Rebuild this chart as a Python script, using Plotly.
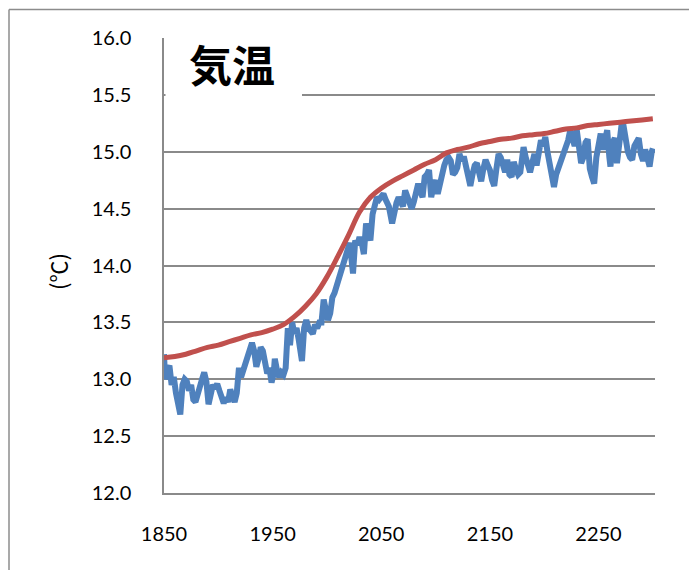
import plotly.graph_objects as go

# ---- data ----
blue_years = [1850, 1851, 1853, 1855, 1857, 1859, 1861, 1863, 1865, 1867, 1869, 1871, 1873, 1875, 1877, 1879,
              1881, 1883, 1885, 1887, 1889, 1891, 1893, 1895, 1897, 1899, 1901, 1903, 1905, 1907, 1909, 1911,
              1913, 1915, 1917, 1919, 1921, 1923, 1925, 1927, 1929,
              1931, 1933, 1935, 1937, 1939, 1941, 1943, 1945, 1947, 1949, 1951, 1952, 1954, 1956, 1958, 1960,
              1962, 1964, 1966, 1968, 1970, 1972, 1974, 1977, 1979, 1981, 1983, 1985, 1987, 1989, 1991, 1993,
              1995, 1997, 1999, 2001, 2003, 2005, 2007, 2009,
              2011, 2013, 2015, 2017, 2019, 2021, 2024, 2026, 2028, 2030, 2032, 2034, 2036, 2038, 2040, 2042,
              2044, 2046, 2048, 2050, 2052, 2054, 2057, 2060, 2062, 2064, 2066, 2068, 2070, 2072, 2074, 2076,
              2078, 2080, 2082, 2084,
              2086, 2088, 2090, 2092, 2094, 2096, 2098, 2100, 2102, 2104, 2106, 2108, 2110, 2112, 2114, 2116,
              2118, 2120, 2122, 2124, 2126, 2128, 2130, 2132, 2134, 2136, 2138, 2140, 2142, 2144, 2146, 2148,
              2150, 2152, 2154, 2156, 2158, 2160,
              2162, 2164, 2166, 2168, 2170, 2172, 2174, 2176, 2178, 2180, 2181, 2183, 2185, 2187, 2189, 2191,
              2193, 2195, 2197, 2199, 2201, 2203, 2205, 2207, 2209, 2211, 2213, 2215, 2218, 2220, 2222, 2224,
              2226, 2228, 2230, 2232, 2234, 2236, 2238, 2240, 2242, 2244, 2246, 2248, 2250, 2252, 2254, 2256,
              2258, 2260, 2261, 2263, 2265, 2267, 2269, 2271, 2273, 2275, 2277, 2279, 2281, 2283, 2285, 2287,
              2289, 2291, 2293, 2295, 2297, 2299, 2300]
blue_temp = [13.22, 13.00, 13.08, 13.12, 12.95, 13.02, 12.88, 12.80, 12.69, 12.95, 13.00, 12.98, 12.90, 12.95, 12.82, 12.80,
             12.88, 12.92, 13.00, 13.06, 12.98, 12.78, 12.85, 12.95, 12.92, 12.96, 12.90, 12.85, 12.79, 12.84, 12.80, 12.91,
             12.85, 12.80, 12.88, 13.10, 13.02, 13.08, 13.15, 13.20, 13.26,
             13.32, 13.25, 13.11, 13.18, 13.28, 13.25, 13.12, 13.05, 13.10, 12.97, 13.05, 13.18, 13.08, 13.02, 13.06, 13.04,
             13.10, 13.45, 13.30, 13.50, 13.40, 13.45, 13.35, 13.16, 13.45, 13.52, 13.45, 13.42, 13.40, 13.48, 13.45, 13.50,
             13.50, 13.70, 13.62, 13.52, 13.58, 13.72, 13.76, 13.82,
             13.90, 13.95, 13.99, 14.08, 14.15, 14.20, 13.93, 14.22, 14.18, 14.25, 14.20, 14.10, 14.37, 14.30, 14.22, 14.45,
             14.55, 14.60, 14.58, 14.60, 14.63, 14.58, 14.52, 14.37, 14.50, 14.55, 14.60, 14.55, 14.52, 14.66, 14.60, 14.55,
             14.50, 14.56, 14.62, 14.72,
             14.65, 14.60, 14.78, 14.80, 14.84, 14.60, 14.70, 14.75, 14.63, 14.72, 14.84, 14.88, 14.93, 14.95, 14.92, 14.80,
             14.82, 14.86, 14.98, 14.92, 14.96, 14.88, 14.80, 14.70, 14.80, 14.88, 14.90, 14.82, 14.74, 14.85, 14.93, 14.88,
             14.84, 14.75, 14.70, 14.85, 14.98, 14.95,
             14.87, 14.82, 14.93, 14.80, 14.78, 14.91, 14.85, 14.80, 14.82, 14.95, 15.04, 14.95, 14.88, 14.82, 14.90, 14.98,
             14.88, 15.00, 15.10, 15.05, 15.13, 15.00, 14.90, 14.75, 14.69, 14.80, 14.85, 14.90, 14.98, 15.05, 15.10, 15.19,
             15.10, 15.05, 15.19, 15.00, 14.90, 14.95, 15.08, 15.11, 14.85, 14.78, 14.72, 14.95, 15.10, 15.16, 15.02, 15.10,
             15.19, 14.95, 14.87, 15.08, 15.12, 14.90, 15.10, 15.22, 15.23, 15.10, 15.00, 14.95, 14.93, 15.05, 15.10, 15.12,
             14.98, 14.92, 15.02, 14.95, 14.87, 15.00, 15.03]

red_years = [1850, 1860, 1870, 1880, 1890, 1900, 1910, 1920, 1930, 1940, 1950, 1960, 1970, 1980, 1990,
             2000, 2010, 2020, 2030, 2040, 2050, 2060, 2070, 2080, 2090, 2100, 2110, 2120, 2130, 2140,
             2150, 2160, 2170, 2180, 2190, 2200, 2210, 2220, 2230, 2240, 2250, 2260, 2270, 2280, 2290, 2300]
red_temp = [13.19, 13.20, 13.22, 13.25, 13.28, 13.30, 13.33, 13.36, 13.39, 13.41, 13.44, 13.48, 13.55, 13.64, 13.75,
            13.90, 14.08, 14.27, 14.47, 14.60, 14.68, 14.74, 14.79, 14.84, 14.89, 14.93, 14.99, 15.02, 15.04, 15.07,
            15.09, 15.11, 15.12, 15.14, 15.15, 15.16, 15.18, 15.20, 15.21, 15.23, 15.24, 15.25, 15.26, 15.27, 15.28, 15.29]

x_ticks = [1850, 1950, 2050, 2150, 2250]
y_ticks = [12.0, 12.5, 13.0, 13.5, 14.0, 14.5, 15.0, 15.5, 16.0]
title_text = "気温"
y_label = "(℃)"

# ---- layout geometry ----
# the page body has an 8px margin, so figure pixel = screen pixel - 8
W, H = 697, 570
OFF = 8
L, R, T, B = 156, 50, 29.5, 84.5
PW, PH = W - L - R, H - T - B


def px(xs):
    return (xs - OFF - L) / PW


def py(ys):
    return (H - B - (ys - OFF)) / PH


GRID = "#8a8a8a"
FONT = "Lato, Liberation Sans, sans-serif"

fig = go.Figure()
fig.add_trace(go.Scatter(x=blue_years, y=blue_temp, mode="lines",
                         line=dict(color="#4F81BD", width=6), hoverinfo="skip"))
fig.add_trace(go.Scatter(x=red_years, y=red_temp, mode="lines", line_shape="spline",
                         line=dict(color="#C0504D", width=5), hoverinfo="skip"))

fig.update_layout(
    width=W, height=H,
    margin=dict(l=L, r=R, t=T, b=B, pad=0),
    paper_bgcolor="white", plot_bgcolor="white",
    showlegend=False,
    font=dict(family=FONT, size=20, color="black"),
    xaxis=dict(range=[1850, 2302], tickvals=x_ticks, ticktext=[str(v) for v in x_ticks],
               showgrid=False, zeroline=False, showline=True, linecolor=GRID, linewidth=1.5,
               ticks="", ticklabelstandoff=22, tickfont=dict(size=20, family=FONT)),
    yaxis=dict(range=[12, 16], tickvals=y_ticks, ticktext=[f"{v:.1f}" for v in y_ticks],
               showgrid=True, gridcolor=GRID, gridwidth=1.5, zeroline=False,
               showline=True, linecolor=GRID, linewidth=1.5,
               ticks="", ticklabelstandoff=27, tickfont=dict(size=20, family=FONT)),
    shapes=[
        # white box behind title
        dict(type="rect", xref="paper", yref="paper", x0=px(165.5), x1=px(302), y0=py(106), y1=py(30),
             fillcolor="white", line=dict(width=0), layer="above"),
        # chart area border
        dict(type="line", xref="paper", yref="paper", x0=px(9), x1=px(720), y0=py(9), y1=py(9),
             line=dict(color="#8c8c8c", width=1.5)),
        dict(type="line", xref="paper", yref="paper", x0=px(9), x1=px(9), y0=py(9), y1=py(600),
             line=dict(color="#8c8c8c", width=1.5)),
    ],
    annotations=[
        dict(text=title_text, xref="paper", yref="paper", x=px(232), y=py(63), showarrow=False,
             xanchor="center", yanchor="middle",
             font=dict(family="Noto Sans CJK JP", size=43, color="black", weight="bold")),
        dict(text=y_label, xref="paper", yref="paper", x=px(57), y=py(272), showarrow=False,
             xanchor="center", yanchor="middle", textangle=-90,
             font=dict(family="Noto Sans CJK JP", size=22, color="black")),
    ],
)

fig.write_html("out.html")
